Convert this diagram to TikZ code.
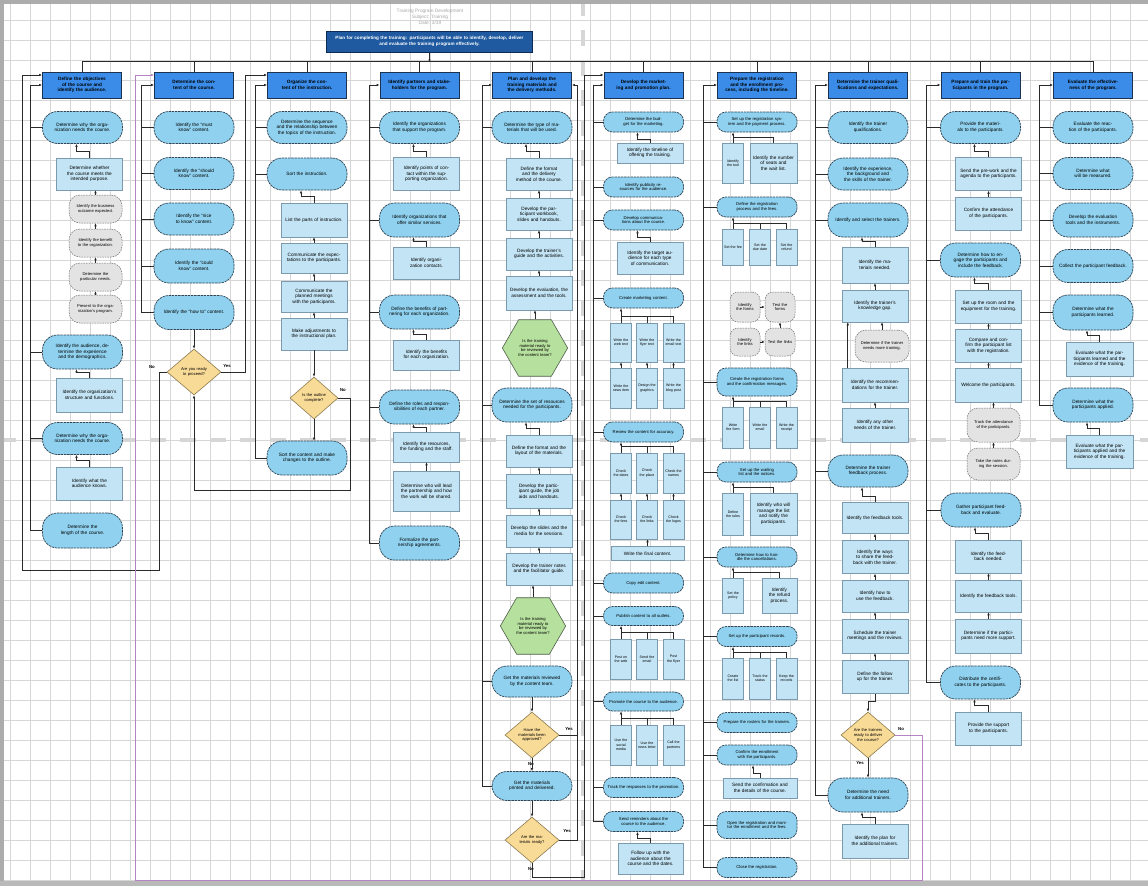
\documentclass[tikz,border=0pt]{standalone}
\usepackage{fontspec}
\setmainfont{Liberation Sans}
\usetikzlibrary{arrows.meta,shapes.geometric,calc}
\definecolor{hdrblue}{HTML}{3A8CE8}
\definecolor{hdrline}{HTML}{1C3350}
\definecolor{termblue}{HTML}{8FD1EE}
\definecolor{termline}{HTML}{2F4556}
\definecolor{procblue}{HTML}{C3E4F5}
\definecolor{procline}{HTML}{7C9AAE}
\definecolor{grayfill}{HTML}{E3E3E3}
\definecolor{grayline}{HTML}{707070}
\definecolor{decfill}{HTML}{F9DB98}
\definecolor{decline}{HTML}{8C7A4E}
\definecolor{hexfill}{HTML}{B6E09E}
\definecolor{hexline}{HTML}{4E5E48}
\definecolor{ttlfill}{HTML}{1F5AA0}
\definecolor{ttlline}{HTML}{0D2B52}
\definecolor{gridc}{HTML}{D6D6D6}
\definecolor{purp}{HTML}{B583BF}
\definecolor{conn}{HTML}{2A2A2A}
\tikzset{
 base/.style={align=center, inner sep=1pt, font=\fontsize{4.7}{5.5}\selectfont},
 hdr/.style={base, rectangle, fill=hdrblue, draw=hdrline, line width=0.9pt, minimum width=79pt, minimum height=26pt, text width=73pt, font=\fontsize{4.7}{5.6}\selectfont\bfseries},
 term/.style={base, rectangle, rounded corners=15pt, fill=termblue, draw=termline, line width=0.7pt, dash pattern=on 2.4pt off 0.8pt, minimum width=80pt, minimum height=32pt, text width=68pt},
 termS/.style={term, rounded corners=9pt, minimum height=20pt, text width=72pt, font=\fontsize{4.2}{4.8}\selectfont},
 proc/.style={base, rectangle, fill=procblue, draw=procline, line width=0.5pt, minimum width=66pt, minimum height=32pt, text width=61pt},
 sm/.style={proc, minimum width=20pt, text width=19pt, font=\fontsize{3.6}{4.4}\selectfont},
 grayn/.style={base, rectangle, rounded corners=11pt, fill=grayfill, draw=grayline, line width=0.5pt, dash pattern=on 1.6pt off 1pt, minimum width=53pt, minimum height=28pt, text width=46pt, font=\fontsize{4.1}{4.8}\selectfont},
 dec/.style={base, diamond, fill=decfill, draw=decline, line width=0.6pt, minimum width=54pt, minimum height=46pt, text width=30pt, inner sep=0pt, font=\fontsize{4.1}{4.8}\selectfont},
 hexa/.style={base, regular polygon, regular polygon sides=6, fill=hexfill, draw=hexline, line width=0.6pt, minimum size=60pt, text width=40pt, inner sep=0pt, font=\fontsize{4.1}{4.8}\selectfont},
 ttl/.style={base, rectangle, fill=ttlfill, draw=ttlline, line width=1pt, text=white, minimum width=206pt, minimum height=21pt, text width=198pt, font=\fontsize{4.6}{5.6}\selectfont\bfseries},
 ttltxt/.style={base, text=gray!70, font=\fontsize{4.8}{6.2}\selectfont},
 lbl/.style={font=\fontsize{4.3}{4.8}\selectfont\bfseries, inner sep=0.5pt},
 ln/.style={draw=conn, line width=0.6pt},
 arr/.style={ln, -{Latex[length=3pt,width=2.6pt]}},
 purpln/.style={draw=purp, line width=0.6pt, -{Latex[length=3pt,width=2.6pt]}},
 gridln/.style={draw=gridc, line width=0.5pt},
 pbreak/.style={draw=gray!32, line width=3.5pt, dash pattern=on 16pt off 14pt},
}
\begin{document}
\begin{tikzpicture}[x=1pt,y=-1pt]
\useasboundingbox (0,0) rectangle (1148,886);
\fill[white] (0,0) rectangle (1148,886);
\foreach \x in {10,30,...,1150} \draw[gridln] (\x,0) -- (\x,886);
\foreach \y in {0,20,...,880} \draw[gridln] (0,\y) -- (1148,\y);
\draw[pbreak] (583,0) -- (583,886);
\draw[pbreak] (0,440) -- (1148,440);
\fill[gray!65] (0,0) rectangle (1148,3.5);
\fill[gray!65] (0,0) rectangle (4,886);
\fill[gray!55] (0,881) rectangle (1148,886);

% title
\node[ttltxt] (sub) at (430,17) {Training Program Development\\Subject: Training\\Date: 3/19};
\node[ttl] (ttl) at (429.5,41.5) {Plan for completing the training: participants will be able to identify, develop, deliver\\and evaluate the training program effectively.};

% headers
\node[hdr] (c1h) at (82,85) {Define the objectives of the course and identify the audience.};
\node[hdr] (c2h) at (194,85) {Determine the content of the course.};
\node[hdr] (c3h) at (307,85) {Organize the content of the instruction.};
\node[hdr] (c4h) at (419.5,85) {Identify partners and stakeholders for the program.};
\node[hdr] (c5h) at (532,85) {Plan and develop the training materials and the delivery methods.};
\node[hdr] (c6h) at (643.5,85) {Develop the marketing and promotion plan.};
\node[hdr] (c7h) at (757,85) {Prepare the registration and the enrollment process, including the timeline.};
\node[hdr] (c8h) at (868,85) {Determine the trainer qualifications and expectations.};
\node[hdr] (c9h) at (980.5,85) {Prepare and train the participants in the program.};
\node[hdr] (c10h) at (1093,85) {Evaluate the effectiveness of the program.};

\draw[arr] (ttl.south) -- ++(0,10);
\draw[ln] (c1h.north) -- ++(0,-10) -| (c10h.north);
\foreach \h in {c2h,c3h,c4h,c5h,c6h,c7h,c8h,c9h} \draw[ln] (\h.north) -- ++(0,-10);

% ---------- column 1
\node[term] (c1n1) at (82.5,127.5) {Determine why the organization needs the course.};
\node[proc] (c1p1) at (89.5,174) {Determine whether the course meets the intended purpose.};
\node[grayn] (c1g1) at (95.5,209) {Identify the business outcome expected.};
\node[grayn] (c1g2) at (95.5,243) {Identify the benefit to the organization.};
\node[grayn] (c1g3) at (95.5,277) {Determine the particular needs.};
\node[grayn] (c1g4) at (95.5,309) {Present to the organization's program.};
\node[term, minimum height=34pt] (c1n2) at (82.5,352) {Identify the audience, determine the experience and the demographics.};
\node[proc, minimum height=34pt] (c1p2) at (89.5,395) {Identify the organization's structure and functions.};
\node[term] (c1n3) at (82.5,438.5) {Determine why the organization needs the course.};
\node[proc, minimum height=33pt] (c1p3) at (89.5,483.5) {Identify what the audience knows.};
\node[term, minimum height=35pt] (c1n4) at (82.5,530.5) {Determine the length of the course.};
\draw[arr] (c1p1.north) -- ++(0,-6) -| ([xshift=-6pt]c1n1.south);
\draw[arr] (c1g1.north) -- (c1g1.north |- c1p1.south);
\draw[arr] (c1g2.north) -- (c1g1.south);
\draw[arr] (c1g3.north) -- (c1g2.south);
\draw[arr] (c1g4.north) -- (c1g3.south);
\draw[arr] (c1p2.north) -- ++(0,-5) -| ([xshift=-6pt]c1n2.south);
\draw[arr] (c1p3.north) -- ++(0,-6) -| ([xshift=-6pt]c1n3.south);
\draw[arr] (c1n4.west) -| ([xshift=-12pt]c1h.west) -- (c1h.west);
\foreach \n in {c1n1,c1n2,c1n3} \draw[ln] (\n.west) -- +(-11.5,0);

% ---------- column 2
\node[term] (c2n1) at (194,127.5) {Identify the ``must know'' content.};
\node[term] (c2n2) at (194,173.5) {Identify the ``should know'' content.};
\node[term] (c2n3) at (194,219) {Identify the ``nice to know'' content.};
\node[term, minimum height=34pt] (c2n4) at (194,266) {Identify the ``could know'' content.};
\node[term, minimum height=34pt] (c2n5) at (194,312.5) {Identify the ``how to'' content.};
\node[dec] (c2d) at (194,372) {Are you ready to proceed?};
\node[lbl] (c2no) at (152,367) {No};
\node[lbl] (c2yes) at (227,366) {Yes};
\draw[arr] (c2n5.south) -- (c2d.north);
\draw[arr] (c2n5.west) -| ([xshift=-13pt]c2h.west) -- (c2h.west);
\foreach \n in {c2n1,c2n2,c2n3,c2n4} \draw[ln] (\n.west) -- +(-13,0);
\draw[arr] (c2d.west) -| (159,570) -| ([xshift=-20pt,yshift=10pt]c1h.west) -- ([yshift=10pt]c1h.west);
\draw[arr] (c2d.east) -| ([xshift=-22pt,yshift=10pt]c3h.west) -- ([yshift=10pt]c3h.west);

% ---------- column 3
\node[term] (c3n1) at (307,127.5) {Determine the sequence and the relationship between the topics of the instruction.};
\node[term] (c3n2) at (307,174) {Sort the instruction.};
\node[proc, minimum height=34pt] (c3p1) at (314,220) {List the parts of instruction.};
\node[proc, minimum height=30pt] (c3p2) at (314,258) {Communicate the expectations to the participants.};
\node[proc, minimum height=31pt] (c3p3) at (314,296.5) {Communicate the planned meetings with the participants.};
\node[proc, minimum height=32pt] (c3p4) at (314,334) {Make adjustments to the instructional plan.};
\node[dec, minimum width=48pt, minimum height=42pt, text width=26pt] (c3d) at (314,398) {Is the outline complete?};
\node[lbl] (c3no) at (343,390) {No};
\node[term, minimum height=34pt] (c3n3) at (307,458) {Sort the content and make changes to the outline.};
\draw[arr] (c3p1.north) -- ++(0,-6) -| ([xshift=-6pt]c3n2.south);
\draw[arr] (c3p2.north) -- (c3p1.south);
\draw[arr] (c3p3.north) -- (c3p2.south);
\draw[arr] (c3p4.north) -- (c3p3.south);
\draw[arr] (c3p4.south) -- (c3d.north);
\draw[arr] (c3d.south) -- (c3d.south |- c3n3.north);
\draw[arr] (c3d.east) -| (350,490) -| (c2d.south);
\draw[arr] (c3n3.west) -| ([xshift=-12pt]c3h.west) -- (c3h.west);
\foreach \n in {c3n1,c3n2} \draw[ln] (\n.west) -- +(-12,0);

% ---------- column 4
\node[term] (c4n1) at (419.5,127.5) {Identify the organizations that support the program.};
\node[proc, minimum height=33pt] (c4p1) at (426.5,174) {Identify points of contact within the supporting organization.};
\node[term, minimum height=34pt] (c4n2) at (419.5,220) {Identify organizations that offer similar services.};
\node[proc] (c4p2) at (426.5,263) {Identify organization contacts.};
\node[term, minimum height=34pt] (c4n3) at (419.5,312) {Define the benefits of partnering for each organization.};
\node[proc, minimum height=30pt] (c4p3) at (426.5,355) {Identify the benefits for each organization.};
\node[term, minimum height=34pt] (c4n4) at (419.5,407) {Define the roles and responsibilities of each partner.};
\node[proc, minimum height=30pt] (c4p4) at (426.5,447) {Identify the resources, the funding and the staff.};
\node[proc, minimum height=40pt] (c4p5) at (426.5,491) {Determine who will lead the partnership and how the work will be shared.};
\node[term, minimum height=34pt] (c4n5) at (419.5,543) {Formalize the partnership agreements.};
\draw[arr] (c4p1.north) -- ++(0,-6) -| ([xshift=-6pt]c4n1.south);
\draw[arr] (c4p2.north) -- ++(0,-5) -| ([xshift=-6pt]c4n2.south);
\draw[arr] (c4p3.north) -- ++(0,-5) -| ([xshift=-6pt]c4n3.south);
\draw[arr] (c4p4.north) -- ++(0,-4) -| ([xshift=-6pt]c4n4.south);
\draw[arr] (c4p5.north) -- (c4p4.south);
\draw[arr] (c4n5.west) -| ([xshift=-10pt]c4h.west) -- (c4h.west);
\foreach \n in {c4n1,c4n2,c4n3,c4n4} \draw[ln] (\n.west) -- +(-10,0);

% ---------- column 5
\node[term] (c5n1) at (532,127.5) {Determine the type of materials that will be used.};
\node[proc] (c5p1) at (539,174) {Define the format and the delivery method of the course.};
\node[proc] (c5p2) at (539,214) {Develop the participant workbook, slides and handouts.};
\node[proc] (c5p3) at (539,254) {Develop the trainer's guide and the activities.};
\node[proc, minimum height=34pt] (c5p4) at (539,293) {Develop the evaluation, the assessment and the tools.};
\node[hexa] (c5hx1) at (535,348) {Is the training material ready to be reviewed by the content team?};
\node[term, minimum height=34pt] (c5n2) at (532,405) {Determine the set of resources needed for the participants.};
\node[proc] (c5p5) at (539,451) {Define the format and the layout of the materials.};
\node[proc, minimum height=34pt] (c5p6) at (539,491) {Develop the participant guide, the job aids and handouts.};
\node[proc] (c5p7) at (539,531) {Develop the slides and the media for the sessions.};
\node[proc] (c5p8) at (539,569) {Develop the trainer notes and the facilitator guide.};
\node[hexa] (c5hx2) at (533,626) {Is the training material ready to be reviewed by the content team?};
\node[term, minimum height=31pt] (c5n3) at (532,681.5) {Get the materials reviewed by the content team.};
\node[dec] (c5d1) at (532,735) {Have the materials been approved?};
\node[lbl] (c5y1) at (569,729) {Yes};
\node[lbl] (c5no1) at (531,764) {No};
\node[term, minimum height=29pt] (c5n4) at (532,786) {Get the materials printed and delivered.};
\node[dec] (c5d2) at (532,840) {Are the materials ready?};
\node[lbl] (c5y2) at (567,831) {Yes};
\node[lbl] (c5no2) at (531,869) {No};
\draw[arr] (c5p1.north) -- ++(0,-6) -| ([xshift=-6pt]c5n1.south);
\draw[arr] (c5p2.north) -- (c5p1.south);
\draw[arr] (c5p3.north) -- (c5p2.south);
\draw[arr] (c5p4.north) -- (c5p3.south);
\draw[arr] (c5hx1.north) -- (c5hx1.north |- c5p4.south);
\draw[arr] (c5p5.north) -- ++(0,-6) -| ([xshift=-6pt]c5n2.south);
\draw[arr] (c5p6.north) -- (c5p5.south);
\draw[arr] (c5p7.north) -- (c5p6.south);
\draw[arr] (c5p8.north) -- (c5p7.south);
\draw[arr] (c5hx2.north) -- (c5hx2.north |- c5p8.south);
\draw[arr] (c5n3.south) -- (c5d1.north);
\draw[arr] (c5d1.south) -- (c5n4.north);
\draw[arr] (c5n4.south) -- (c5d2.north);
\draw[arr] (c5d1.east) -| ([xshift=5pt]c5h.east) -- (c5h.east);
\draw[ln] (c5d2.east) -| ([xshift=5pt]c5d1.east -| c5h.east);
\draw[arr] (c5d2.south) -- ++(0,14) -| ([xshift=-19pt,yshift=10pt]c6h.west) -- ([yshift=10pt]c6h.west);
\draw[arr] (c5n4.west) -| ([xshift=-10pt]c5h.west) -- (c5h.west);
\foreach \n in {c5n1,c5n2,c5n3} \draw[ln] (\n.west) -- +(-10,0);

% ---------- column 6
\node[termS] (c6n1) at (643.5,122) {Determine the budget for the marketing.};
\node[proc, minimum height=20pt] (c6p1) at (650,153) {Identify the timeline of offering the training.};
\node[termS] (c6n2) at (643.5,187) {Identify publicity resources for the audience.};
\node[termS] (c6n3) at (643.5,220) {Develop communications about the course.};
\node[proc] (c6p2) at (650,258) {Identify the target audience for each type of communication.};
\node[termS] (c6n4) at (643.5,298) {Create marketing content.};
\node[sm, minimum height=39pt] (c6a1) at (621,342.5) {Write the web text};
\node[sm, minimum height=39pt] (c6a2) at (647,342.5) {Write the flyer text};
\node[sm, minimum height=39pt] (c6a3) at (673.5,342.5) {Write the email text};
\node[sm, minimum height=40pt] (c6b1) at (621,388) {Write the news item};
\node[sm, minimum height=40pt] (c6b2) at (647,388) {Design the graphics};
\node[sm, minimum height=40pt] (c6b3) at (673.5,388) {Write the blog post};
\node[termS] (c6n5) at (643.5,432) {Review the content for accuracy.};
\node[sm, minimum height=40pt] (c6c1) at (621,473) {Check the dates};
\node[sm, minimum height=40pt] (c6c2) at (647,473) {Check the place};
\node[sm, minimum height=40pt] (c6c3) at (673.5,473) {Check the names};
\node[sm, minimum height=39pt] (c6d1) at (621,519.5) {Check the fees};
\node[sm, minimum height=39pt] (c6d2) at (647,519.5) {Check the links};
\node[sm, minimum height=39pt] (c6d3) at (673.5,519.5) {Check the logos};
\node[proc, minimum width=73pt, text width=68pt, minimum height=14pt] (c6p3) at (647.5,553.5) {Write the final content.};
\node[termS] (c6n6) at (643.5,583) {Copy edit content.};
\node[termS, minimum height=19pt] (c6n7) at (643.5,616) {Publish content to all outlets.};
\node[sm, minimum height=40pt] (c6e1) at (621,659) {Post on the web};
\node[sm, minimum height=40pt] (c6e2) at (647,659) {Send the email};
\node[sm, minimum height=40pt] (c6e3) at (673.5,659) {Post the flyer};
\node[termS, minimum height=19pt] (c6n8) at (643.5,701.5) {Promote the course to the audience.};
\node[sm, minimum height=40pt] (c6f1) at (621,745) {Use the social media};
\node[sm, minimum height=40pt] (c6f2) at (647,745) {Use the news letter};
\node[sm, minimum height=40pt] (c6f3) at (673.5,745) {Call the partners};
\node[termS] (c6n9) at (643.5,787.5) {Track the responses to the promotion.};
\node[termS] (c6n10) at (643.5,821.5) {Send reminders about the course to the audience.};
\node[proc, minimum width=65pt, minimum height=31pt] (c6p4) at (650.5,858.5) {Follow up with the audience about the course and the dates.};
\draw[arr] (c6p1.north) -- ++(0,-3) -| ([xshift=-6pt]c6n1.south);
\draw[arr] (c6p2.north) -- ++(0,-4) -| ([xshift=-6pt]c6n3.south);
\foreach \r/\t in {a/c6n4,c/c6n5,e/c6n7,f/c6n8} {
  \draw[ln] (c6\r1.north) -- ++(0,-6) -| (c6\r3.north);
  \draw[ln] (c6\r2.north) -- ++(0,-6);
  \draw[arr] ([yshift=6pt]c6\r1.north) -- (c6\r1.north |- \t.south);
}
\foreach \i in {1,2,3} {
  \draw[arr] (c6b\i.north) -- (c6a\i.south);
  \draw[arr] (c6d\i.north) -- (c6c\i.south);
}
\draw[arr] (c6p3.north) -- (c6p3.north |- c6d2.south);
\draw[arr] (c6p4.north) -- ++(0,-4) -| ([xshift=-6pt]c6n10.south);
\draw[arr] (c6n10.west) -| ([xshift=-10pt]c6h.west) -- (c6h.west);
\foreach \n in {c6n1,c6n2,c6n3,c6n4,c6n5,c6n6,c6n7,c6n8,c6n9} \draw[ln] (\n.west) -- +(-10,0);

% ---------- column 7
\node[termS] (c7n1) at (757,122) {Set up the registration system and the payment process.};
\node[sm, minimum height=40pt] (c7a1) at (733,163) {Identify the tool};
\node[proc, minimum width=47pt, text width=43pt, minimum height=40pt] (c7a2) at (773.5,163) {Identify the number of seats and the wait list.};
\node[termS] (c7n2) at (757,207) {Define the registration process and the fees.};
\node[sm, minimum height=36pt] (c7b1) at (733,247) {Set the fee};
\node[sm, minimum height=36pt] (c7b2) at (760,247) {Set the due date};
\node[sm, minimum height=36pt] (c7b3) at (786.5,247) {Set the refund};
\node[grayn, minimum width=30pt, text width=26pt, minimum height=30pt, rounded corners=8pt] (c7g1) at (745,307) {Identify the forms};
\node[grayn, minimum width=30pt, text width=26pt, minimum height=30pt, rounded corners=8pt] (c7g2) at (780,307) {Test the forms};
\node[grayn, minimum width=30pt, text width=26pt, minimum height=28pt, rounded corners=8pt] (c7g3) at (745,342) {Identify the links};
\node[grayn, minimum width=30pt, text width=26pt, minimum height=28pt, rounded corners=8pt] (c7g4) at (780,342) {Test the links};
\node[termS, minimum height=28pt] (c7n3) at (757,382) {Create the registration forms and the confirmation messages.};
\node[sm, minimum height=41pt] (c7c1) at (733,427.5) {Write the form};
\node[sm, minimum height=41pt] (c7c2) at (760,427.5) {Write the email};
\node[sm, minimum height=41pt] (c7c3) at (786.5,427.5) {Write the receipt};
\node[termS] (c7n4) at (757,472) {Set up the waiting list and the notices.};
\node[sm, minimum height=42pt] (c7d1) at (733,514) {Define the rules};
\node[proc, minimum width=47pt, text width=43pt, minimum height=42pt] (c7d2) at (773.5,514) {Identify who will manage the list and notify the participants.};
\node[termS] (c7n5) at (757,557) {Determine how to handle the cancellations.};
\node[sm, minimum height=35pt] (c7e1) at (733,595.5) {Set the policy};
\node[proc, minimum width=35pt, text width=31pt, minimum height=35pt] (c7e2) at (779.5,595.5) {Identify the refund process.};
\node[termS] (c7n6) at (757,636.5) {Set up the participant records.};
\node[sm, minimum height=41pt] (c7f1) at (733,678.5) {Create the list};
\node[sm, minimum height=41pt] (c7f2) at (760,678.5) {Track the status};
\node[sm, minimum height=41pt] (c7f3) at (786.5,678.5) {Keep the records};
\node[termS] (c7n7) at (757,722.5) {Prepare the rosters for the trainers.};
\node[termS] (c7n8) at (757,755) {Confirm the enrollment with the participants.};
\node[proc, minimum width=74pt, text width=68pt, minimum height=20pt] (c7p1) at (760,788) {Send the confirmation and the details of the course.};
\node[termS, minimum height=27pt] (c7n9) at (757,825) {Open the registration and monitor the enrollment and the fees.};
\node[termS] (c7n10) at (757,867.5) {Close the registration.};
\foreach \r/\t in {a/c7n1,d/c7n4,e/c7n5} {
  \draw[ln] (c7\r1.north) -- ++(0,-5) -| (c7\r2.north);
  \draw[arr] ([yshift=5pt]c7\r1.north) -- (c7\r1.north |- \t.south);
}
\foreach \r/\t in {b/c7n2,c/c7n3,f/c7n6} {
  \draw[ln] (c7\r1.north) -- ++(0,-5) -| (c7\r3.north);
  \draw[ln] (c7\r2.north) -- ++(0,-5);
  \draw[arr] ([yshift=5pt]c7\r1.north) -- (c7\r1.north |- \t.south);
}
\draw[arr] (c7g1.east) -- (c7g2.west);
\draw[arr] (c7g3.east) -- (c7g4.west);
\draw[arr] (c7g4.north) -- (c7g2.south);
\draw[arr] (c7p1.north) -- ++(0,-4) -| ([xshift=-4pt]c7n8.south);
\draw[arr] (c7n10.west) -| ([xshift=-14pt]c7h.west) -- (c7h.west);
\foreach \n in {c7n1,c7n2,c7n3,c7n4,c7n5,c7n6,c7n7,c7n8,c7n9} \draw[ln] (\n.west) -- +(-14,0);

% ---------- column 8
\node[term] (c8n1) at (868,127.5) {Identify the trainer qualifications.};
\node[term] (c8n2) at (868,174) {Identify the experience, the background and the skills of the trainer.};
\node[term, minimum height=34pt] (c8n3) at (868,220) {Identify and select the trainers.};
\node[proc, minimum height=36pt] (c8p1) at (875,265) {Identify the materials needed.};
\node[proc] (c8p2) at (875,306) {Identify the trainer's knowledge gap.};
\node[grayn, minimum width=54pt, minimum height=32pt] (c8g1) at (882,346) {Determine if the trainer needs more training.};
\node[proc, minimum height=34pt] (c8p3) at (875,385) {Identify the recommendations for the trainer.};
\node[proc, minimum height=34pt] (c8p4) at (875,425) {Identify any other needs of the trainer.};
\node[term] (c8n4) at (868,471) {Determine the trainer feedback process.};
\node[proc, minimum height=31pt] (c8p5) at (875,518) {Identify the feedback tools.};
\node[proc, minimum height=33pt] (c8p6) at (875,557) {Identify the ways to share the feedback with the trainer.};
\node[proc] (c8p7) at (875,596) {Identify how to use the feedback.};
\node[proc, minimum height=34pt] (c8p8) at (875,636) {Schedule the trainer meetings and the reviews.};
\node[proc, minimum height=33pt] (c8p9) at (875,677) {Define the follow up for the trainer.};
\node[dec] (c8d) at (868,735) {Are the trainers ready to deliver the course?};
\node[lbl] (c8no) at (901,729) {No};
\node[lbl] (c8yes) at (860,763) {Yes};
\node[term, minimum height=34pt] (c8n5) at (868,795) {Determine the need for additional trainers.};
\node[proc, minimum height=34pt] (c8p10) at (875,841) {Identify the plan for the additional trainers.};
\draw[arr] (c8p1.north) -- ++(0,-5) -| ([xshift=-6pt]c8n3.south);
\draw[arr] (c8p2.north) -- (c8p1.south);
\coordinate (c8x) at ([xshift=6pt]c8p3.north west);
\draw[arr] (c8x) -- (c8x |- c8p2.south);
\draw[arr] (c8g1.north) -- (c8g1.north |- c8p2.south);
\draw[arr] (c8p4.north) -- (c8p3.south);
\draw[arr] (c8p5.north) -- ++(0,-6) -| ([xshift=-6pt]c8n4.south);
\draw[arr] (c8p6.north) -- (c8p5.south);
\draw[arr] (c8p7.north) -- (c8p6.south);
\draw[arr] (c8p8.north) -- (c8p7.south);
\draw[arr] (c8p9.north) -- (c8p8.south);
\draw[arr] (c8p9.south) -- ++(0,8) -| (c8d.north);
\draw[arr] (c8d.south) -- (c8n5.north);
\draw[arr] (c8p10.north) -- ++(0,-6) -| ([xshift=-6pt]c8n5.south);
\draw[purpln] (c8d.east) -| (922,880) -| ([xshift=-19pt,yshift=10pt]c2h.west) -- ([yshift=10pt]c2h.west);
\draw[arr] (c8n5.west) -| ([xshift=-13pt]c8h.west) -- (c8h.west);
\foreach \n in {c8n1,c8n2,c8n3,c8n4} \draw[ln] (\n.west) -- +(-13,0);

% ---------- column 9
\node[term] (c9n1) at (980.5,127.5) {Provide the materials to the participants.};
\node[proc, minimum height=33pt] (c9p1) at (988.5,174) {Send the pre-work and the agenda to the participants.};
\node[proc, minimum height=33pt] (c9p2) at (988.5,213.5) {Confirm the attendance of the participants.};
\node[term, minimum height=34pt] (c9n2) at (980.5,260) {Determine how to engage the participants and include the feedback.};
\node[proc, minimum height=33pt] (c9p3) at (988.5,306.5) {Set up the room and the equipment for the training.};
\node[proc, minimum height=33pt] (c9p4) at (988.5,345.5) {Compare and confirm the participant list with the registration.};
\node[proc, minimum height=34pt] (c9p5) at (988.5,385) {Welcome the participants.};
\node[grayn, minimum height=34pt] (c9g1) at (993.5,425) {Track the attendance of the participants.};
\node[grayn, minimum height=32pt] (c9g2) at (993.5,464) {Take the notes during the session.};
\node[term, minimum height=34pt] (c9n3) at (981,510) {Gather participant feedback and evaluate.};
\node[proc, minimum height=33pt] (c9p6) at (988.5,556.5) {Identify the feedback needed.};
\node[proc] (c9p7) at (988.5,596) {Identify the feedback tools.};
\node[proc, minimum height=34pt] (c9p8) at (988.5,636) {Determine if the participants need more support.};
\node[term, minimum height=33pt] (c9n4) at (980.5,682.5) {Distribute the certificates to the participants.};
\node[proc, minimum height=33pt] (c9p9) at (988.5,728.5) {Provide the support to the participants.};
\draw[arr] (c9p1.north) -- ++(0,-6) -| ([xshift=-6pt]c9n1.south);
\draw[arr] (c9p2.north) -- (c9p1.south);
\draw[arr] (c9p3.north) -- ++(0,-6) -| ([xshift=-6pt]c9n2.south);
\draw[arr] (c9p4.north) -- (c9p3.south);
\draw[arr] (c9p5.north) -- (c9p4.south);
\draw[arr] (c9g1.north) -- (c9g1.north |- c9p5.south);
\draw[arr] (c9g2.north) -- (c9g1.south);
\draw[arr] (c9p6.north) -- ++(0,-6) -| ([xshift=-6pt]c9n3.south);
\draw[arr] (c9p7.north) -- (c9p6.south);
\draw[arr] (c9p8.north) -- (c9p7.south);
\draw[arr] (c9p9.north) -- ++(0,-6) -| ([xshift=-6pt]c9n4.south);
\draw[arr] (c9n4.west) -| ([xshift=-14pt]c9h.west) -- (c9h.west);
\foreach \n in {c9n1,c9n2,c9n3} \draw[ln] (\n.west) -- +(-14,0);

% ---------- column 10
\node[term] (c10n1) at (1093,127.5) {Evaluate the reaction of the participants.};
\node[term] (c10n2) at (1093,173.5) {Determine what will be measured.};
\node[term, minimum height=34pt] (c10n3) at (1093,220) {Develop the evaluation tools and the instruments.};
\node[term, minimum height=33pt] (c10n4) at (1093,266) {Collect the participant feedback.};
\node[term, minimum height=35pt] (c10n5) at (1093,312.5) {Determine what the participants learned.};
\node[proc, minimum width=67pt, minimum height=34pt] (c10p1) at (1099.5,359) {Evaluate what the participants learned and the evidence of the training.};
\node[term, minimum height=34pt] (c10n6) at (1093,405) {Determine what the participants applied.};
\node[proc, minimum width=67pt, minimum height=33pt] (c10p2) at (1099.5,451.5) {Evaluate what the participants applied and the evidence of the training.};
\draw[arr] (c10p1.north) -- ++(0,-6) -| ([xshift=-6pt]c10n5.south);
\draw[arr] (c10p2.north) -- ++(0,-6) -| ([xshift=-6pt]c10n6.south);
\draw[arr] (c10n6.west) -| ([xshift=-14pt]c10h.west) -- (c10h.west);
\foreach \n in {c10n1,c10n2,c10n3,c10n4,c10n5} \draw[ln] (\n.west) -- +(-14,0);
\end{tikzpicture}
\end{document}
